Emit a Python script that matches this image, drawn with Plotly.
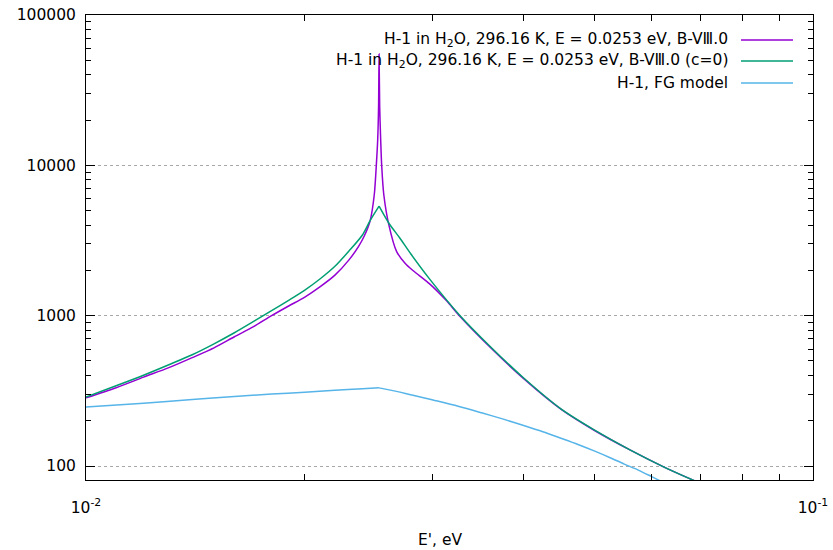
import plotly.graph_objects as go

# ---- data ----
b8_x = [0.010, 0.011, 0.012, 0.013, 0.014, 0.015, 0.016, 0.017, 0.018, 0.019, 0.020, 0.021,
        0.022, 0.023, 0.0237, 0.02415, 0.0246, 0.02492, 0.02508, 0.02519, 0.02526, 0.0253,
        0.02535, 0.02543, 0.02551, 0.02568, 0.0261, 0.02675, 0.02747, 0.02819, 0.02972,
        0.03133, 0.0327, 0.036, 0.040, 0.045, 0.050, 0.056, 0.0625, 0.069, 0.075]
b8_y = [284, 332, 390, 451, 526, 611, 724, 845, 1000, 1160, 1330, 1560,
        1860, 2350, 2877, 3400, 4300, 6400, 10000, 14750, 24500, 55000,
        24500, 14750, 10000, 6400, 4000, 2667, 2234, 1990, 1620,
        1255, 988, 614, 381, 239, 173, 128, 98, 79, 66]

c0_x = [0.010, 0.011, 0.012, 0.013, 0.014, 0.015, 0.016, 0.017, 0.018, 0.019, 0.020, 0.021,
        0.022, 0.023, 0.024, 0.0246, 0.0253, 0.0261, 0.0270, 0.0280, 0.0297, 0.0327, 0.036,
        0.040, 0.045, 0.050, 0.056, 0.0625, 0.069, 0.075]
c0_y = [288, 342, 402, 472, 550, 650, 770, 915, 1080, 1265, 1480, 1760,
        2130, 2692, 3443, 4300, 5350, 4120, 3300, 2560, 1750, 1000, 622,
        385, 240, 174, 128, 98, 79, 66]

fg_x = [0.010, 0.012, 0.014, 0.016, 0.018, 0.020, 0.022, 0.024, 0.0253, 0.0275, 0.030,
        0.0325, 0.035, 0.0375, 0.040, 0.0425, 0.045, 0.0475, 0.050, 0.0525, 0.055,
        0.0575, 0.060, 0.0625, 0.065]
fg_y = [247, 262, 277, 290, 301, 310, 319, 326, 331, 304, 275,
        250, 226, 205, 186, 169, 153, 139, 126, 114, 103,
        94, 85, 77, 70]

labels = ["H-1 in H<sub>2</sub>O, 296.16 K, E = 0.0253 eV, B-VⅢ.0",
          "H-1 in H<sub>2</sub>O, 296.16 K, E = 0.0253 eV, B-VⅢ.0 (c=0)",
          "H-1, FG model"]
colors = ["#9400d3", "#009e73", "#56b4e9"]

x_tickvals = [0.01, 0.1]
x_ticktext = ["10<sup>-2</sup>", "10<sup>-1</sup>"]
y_tickvals = [100, 1000, 10000, 100000]
y_ticktext = ["100", "1000", "10000", "100000"]
x_minor = [0.02, 0.03, 0.04, 0.05, 0.06, 0.07, 0.08, 0.09]
y_minor = [m * d for d in (100, 1000, 10000) for m in range(2, 10)]
x_title = "E', eV"

FONT = "DejaVu Sans"
FS = 15.5
W, H = 833, 550
L, R, T, B = 86, 813, 15, 480

fig = go.Figure()


def add_curve(xs, ys, color, name, split_at_peak):
    """Smooth line; optionally split at its maximum so the cusp stays sharp."""
    if split_at_peak:
        k = ys.index(max(ys))
        parts = [(xs[:k + 1], ys[:k + 1]), (xs[k:], ys[k:])]
    else:
        parts = [(xs, ys)]
    for px_, py_ in parts:
        fig.add_trace(go.Scatter(x=px_, y=py_, mode="lines", name=name,
                                 legendgroup=name, showlegend=False,
                                 line=dict(color=color, width=1.5,
                                           shape="spline", smoothing=0.8)))


add_curve(b8_x, b8_y, colors[0], labels[0], False)
add_curve(c0_x, c0_y, colors[1], labels[1], True)
add_curve(fg_x, fg_y, colors[2], labels[2], True)


def px(xp):
    return (xp - L) / (R - L)


def py(yp):
    return (B - yp) / (B - T)


rows = [40, 61, 83]
for lab, c, ry in zip(labels, colors, rows):
    fig.add_annotation(x=px(730), y=py(ry), xref="paper", yref="paper", text=lab,
                       showarrow=False, xanchor="right", yanchor="middle",
                       font=dict(family=FONT, size=FS, color="black"))
    fig.add_shape(type="line", xref="paper", yref="paper", x0=px(741), x1=px(793),
                  y0=py(ry), y1=py(ry), line=dict(color=c, width=1.5))

fig.add_annotation(x=px(440), y=py(540), xref="paper", yref="paper", text=x_title,
                   showarrow=False, xanchor="center", yanchor="middle",
                   font=dict(family=FONT, size=FS, color="black"))

fig.update_layout(
    width=W, height=H,
    margin=dict(l=L, r=W - R, t=T, b=H - B, autoexpand=False),
    paper_bgcolor="white", plot_bgcolor="white",
    font=dict(family=FONT, size=FS, color="black"),
    xaxis=dict(type="log", range=[-2, -1], showgrid=False, zeroline=False,
               automargin=False,
               showline=True, linecolor="black", linewidth=1, mirror="allticks",
               ticks="inside", ticklen=9, tickcolor="black",
               tickmode="array", tickvals=x_tickvals, ticktext=x_ticktext,
               ticklabelstandoff=13,
               minor=dict(tickmode="array", tickvals=x_minor, ticks="inside",
                          ticklen=6, tickcolor="black", showgrid=False)),
    yaxis=dict(type="log", range=[1.907, 5.0], showgrid=True, gridcolor="#a8a8a8",
               griddash="dot", gridwidth=1, zeroline=False, automargin=False,
               showline=True, linecolor="black", linewidth=1, mirror="allticks",
               ticks="inside", ticklen=9, tickcolor="black",
               tickmode="array", tickvals=y_tickvals, ticktext=y_ticktext,
               ticklabelstandoff=6,
               minor=dict(tickmode="array", tickvals=y_minor, ticks="inside",
                          ticklen=5, tickcolor="black", showgrid=False)),
)

fig.write_html("out.html")
